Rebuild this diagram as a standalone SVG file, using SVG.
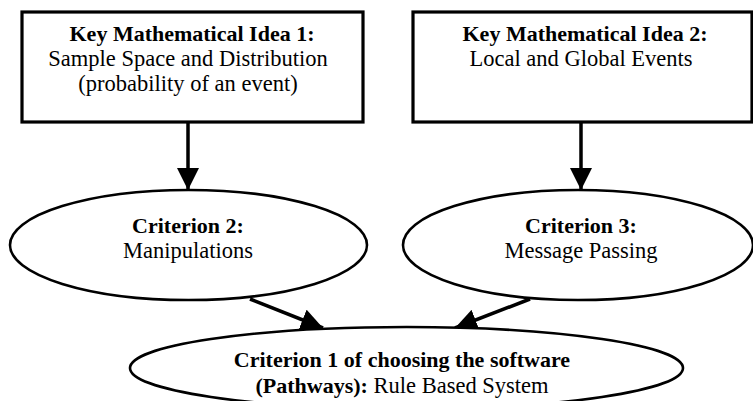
<svg xmlns="http://www.w3.org/2000/svg" width="753" height="401" viewBox="0 0 753 401">
  <style>
    .box { fill: #fff; stroke: #000; stroke-width: 3.2; }
    .ell { fill: #fff; stroke: #000; stroke-width: 2.6; }
    .t { font-family: "Liberation Serif", "Times New Roman", serif; font-size: 22.5px; fill: #000; text-anchor: middle; }
    .b { font-weight: bold; font-size: 22px; }
    .conn { stroke: #000; stroke-width: 3.5; fill: none; }
  </style>
  <defs>
    <marker id="ah" markerUnits="userSpaceOnUse" markerWidth="22" markerHeight="22" viewBox="0 0 20 20" refX="20" refY="10" orient="auto">
      <path d="M0,0 L20,10 L0,20 Z" fill="#000"/>
    </marker>
  </defs>

  <g id="connectors">
    <line class="conn" x1="188" y1="122" x2="188" y2="190" marker-end="url(#ah)"/>
    <line class="conn" x1="581" y1="122" x2="581" y2="190" marker-end="url(#ah)"/>
    <line class="conn" x1="250" y1="299" x2="323" y2="328" marker-end="url(#ah)"/>
    <line class="conn" x1="530" y1="299" x2="455" y2="328" marker-end="url(#ah)"/>
  </g>

  <g id="idea1">
    <rect class="box" x="22" y="12" width="341" height="110"/>
    <text class="t b" x="192" y="41">Key Mathematical Idea 1:</text>
    <text class="t" x="188" y="66">Sample Space and Distribution</text>
    <text class="t" x="188" y="91">(probability of an event)</text>
  </g>

  <g id="idea2">
    <rect class="box" x="413" y="12" width="339" height="110"/>
    <text class="t b" x="585" y="41">Key Mathematical Idea 2:</text>
    <text class="t" x="581" y="66">Local and Global Events</text>
  </g>

  <g id="criterion2">
    <ellipse class="ell" cx="188.5" cy="245" rx="178.5" ry="55"/>
    <text class="t b" x="188" y="233">Criterion 2:</text>
    <text class="t" x="188" y="258">Manipulations</text>
  </g>

  <g id="criterion3">
    <ellipse class="ell" cx="578" cy="245" rx="175" ry="55"/>
    <text class="t b" x="581" y="233">Criterion 3:</text>
    <text class="t" x="581" y="258">Message Passing</text>
  </g>

  <g id="criterion1">
    <ellipse class="ell" cx="406.5" cy="368" rx="276.5" ry="41"/>
    <text class="t b" x="402" y="367">Criterion 1 of choosing the software</text>
    <text class="t" x="402" y="393"><tspan class="b">(Pathways):</tspan> Rule Based System</text>
  </g>
</svg>
